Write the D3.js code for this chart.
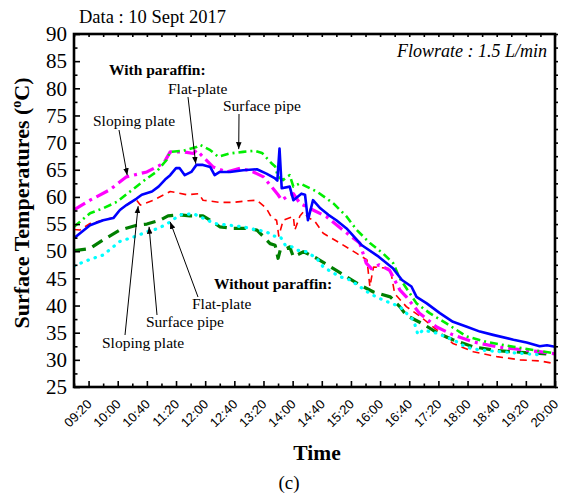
<!DOCTYPE html>
<html>
<head>
<meta charset="utf-8">
<script src="https://d3js.org/d3.v7.min.js"></script>
<style>
  body { margin: 0; background: #fff; }
  svg { display: block; }
  .serif { font-family: "Liberation Serif", "Times New Roman", serif; }
</style>
</head>
<body>
<div id="chart"></div>
<script>
// ---------- data ----------
var xTickLabels = ["09:20", "10:00", "10:40", "11:20", "12:00", "12:40", "13:20", "14:00",
  "14:40", "15:20", "16:00", "16:40", "17:20", "18:00", "18:40", "19:20", "20:00"];
var yTickLabels = [25, 30, 35, 40, 45, 50, 55, 60, 65, 70, 75, 80, 85, 90];

// with paraffin
var flatPlateWith = [
  ["09:00", 52.4], ["09:10", 53.5], ["09:22", 54.8], ["09:30", 55.2], ["09:40", 55.7], ["09:54", 56.1],
  ["10:03", 57.6], ["10:12", 58.5], ["10:26", 59.7], ["10:33", 60.4], ["10:47", 61.0], ["10:56", 61.9],
  ["11:05", 63.2], ["11:12", 64.0], ["11:20", 65.3], ["11:25", 65.3], ["11:32", 64.0], ["11:41", 64.6],
  ["11:48", 65.9], ["11:57", 65.9], ["12:07", 65.5], ["12:13", 64.0], ["12:20", 64.6], ["12:34", 64.6],
  ["12:52", 64.9], ["13:11", 65.1], ["13:24", 64.3], ["13:36", 63.4], ["13:39", 63.0], ["13:42", 68.9],
  ["13:45", 61.6], ["13:56", 61.9], ["14:01", 59.4], ["14:12", 60.6], ["14:17", 60.4], ["14:21", 55.7],
  ["14:28", 59.4], ["14:38", 57.9], ["14:49", 56.7], ["15:00", 55.7], ["15:14", 54.2], ["15:35", 51.1],
  ["15:58", 49.0], ["16:18", 46.8], ["16:30", 44.7], ["16:43", 43.5], ["16:50", 41.6], ["17:04", 40.4],
  ["17:22", 38.6], ["17:40", 37.0], ["17:59", 36.1], ["18:17", 35.2], ["18:35", 34.6], ["19:03", 33.7],
  ["19:21", 33.2], ["19:39", 32.5], ["19:49", 32.7], ["20:00", 32.4]
];
var surfacePipeWith = [
  ["09:00", 54.5], ["09:22", 57.0], ["09:40", 57.9], ["09:59", 59.1], ["10:17", 61.0], ["10:40", 63.4],
  ["10:53", 64.6], ["11:07", 66.8], ["11:12", 68.3], ["11:30", 68.5], ["11:48", 69.2], ["11:53", 69.6],
  ["12:07", 68.6], ["12:18", 67.4], ["12:34", 68.0], ["12:52", 68.3], ["13:08", 68.5], ["13:18", 68.1],
  ["13:27", 66.8], ["13:31", 66.2], ["13:36", 65.6], ["13:40", 63.7], ["13:47", 63.1], ["13:52", 63.7],
  ["13:56", 64.0], ["14:01", 61.9], ["14:10", 62.5], ["14:33", 61.0], ["14:56", 58.8], ["15:14", 56.4],
  ["15:28", 53.9], ["15:46", 51.5], ["16:04", 49.6], ["16:18", 47.8], ["16:27", 45.0], ["16:50", 40.4],
  ["17:08", 38.6], ["17:31", 36.7], ["17:59", 34.3], ["18:26", 33.3], ["19:03", 32.4], ["19:30", 31.8],
  ["20:00", 31.2]
];
var slopingPlateWith = [
  ["09:00", 57.6], ["09:22", 59.4], ["09:49", 61.3], ["10:12", 63.7], ["10:40", 64.6], ["11:03", 66.2],
  ["11:12", 68.3], ["11:30", 68.3], ["11:44", 68.0], ["11:48", 68.6], ["11:57", 67.4], ["12:11", 65.5],
  ["12:30", 64.6], ["12:48", 65.3], ["13:06", 64.6], ["13:20", 63.7], ["13:29", 62.2], ["13:40", 60.4],
  ["13:45", 59.4], ["13:56", 60.4], ["14:01", 60.6], ["14:10", 58.8], ["14:28", 57.6], ["14:46", 56.4],
  ["15:09", 53.9], ["15:32", 51.5], ["15:41", 47.8], ["15:48", 46.8], ["15:59", 47.5], ["16:13", 46.5],
  ["16:27", 42.9], ["16:36", 41.6], ["16:54", 38.6], ["17:17", 36.1], ["17:40", 34.6], ["18:08", 33.3],
  ["18:40", 32.4], ["19:12", 31.9], ["19:39", 31.5], ["20:00", 31.1]
];

// without paraffin
var slopingPlateWithout = [
  ["09:00", 54.0], ["09:08", 53.9], ["09:22", 55.1], ["09:40", 55.7], ["09:54", 56.2], ["10:03", 57.6],
  ["10:17", 59.0], ["10:26", 59.4], ["10:31", 58.5], ["10:49", 59.4], ["11:12", 61.0], ["11:35", 60.4],
  ["11:51", 60.6], ["11:57", 59.4], ["12:20", 59.0], ["12:39", 59.0], ["12:59", 59.3], ["13:11", 59.4],
  ["13:24", 57.9], ["13:31", 56.2], ["13:38", 55.7], ["13:41", 52.8], ["13:47", 55.7], ["14:01", 56.4],
  ["14:03", 53.9], ["14:10", 56.5], ["14:15", 57.3], ["14:21", 56.2], ["14:30", 55.6], ["14:42", 53.3],
  ["15:05", 51.5], ["15:28", 49.6], ["15:42", 48.4], ["15:46", 43.5], ["15:51", 47.1], ["16:14", 46.8],
  ["16:20", 42.2], ["16:36", 39.8], ["16:55", 38.0], ["17:18", 35.5], ["17:40", 33.0], ["18:08", 31.5],
  ["18:40", 30.6], ["19:12", 30.0], ["19:39", 29.8], ["20:00", 29.3]
];
var surfacePipeWithout = [
  ["09:00", 50.1], ["09:22", 50.5], ["09:40", 52.1], ["10:03", 53.9], ["10:26", 54.8], ["10:40", 55.0],
  ["10:58", 55.7], ["11:09", 56.5], ["11:25", 56.7], ["11:39", 56.5], ["11:57", 56.5], ["12:07", 55.7],
  ["12:20", 54.5], ["12:39", 54.2], ["12:57", 54.2], ["13:11", 53.9], ["13:20", 52.7], ["13:29", 51.4],
  ["13:36", 51.1], ["13:40", 48.7], ["13:43", 50.2], ["13:52", 50.5], ["13:56", 50.8], ["14:01", 49.0],
  ["14:15", 49.9], ["14:33", 48.7], ["14:56", 46.8], ["15:32", 43.8], ["15:51", 42.5], ["16:14", 41.6],
  ["16:27", 39.8], ["16:36", 38.2], ["16:59", 36.6], ["17:18", 35.0], ["17:40", 33.7], ["18:08", 32.4],
  ["18:40", 31.7], ["19:12", 31.4], ["19:48", 31.1]
];
var flatPlateWithout = [
  ["09:00", 47.3], ["09:22", 48.5], ["09:40", 49.3], ["10:03", 51.8], ["10:26", 52.8], ["10:40", 53.6],
  ["10:56", 54.2], ["11:12", 55.4], ["11:25", 56.7], ["11:44", 56.9], ["12:13", 55.1], ["12:32", 54.8],
  ["12:52", 54.5], ["13:11", 53.9], ["13:24", 53.6], ["13:33", 52.8], ["13:43", 52.7], ["13:50", 51.1],
  ["13:59", 50.8], ["14:06", 50.2], ["14:19", 49.9], ["14:33", 48.7], ["14:42", 47.1], ["15:05", 45.3],
  ["15:19", 44.7], ["15:32", 43.5], ["15:46", 42.2], ["16:04", 41.0], ["16:27", 39.8], ["16:46", 37.3],
  ["16:52", 34.6], ["16:59", 35.5], ["17:18", 34.9], ["17:40", 33.7], ["17:59", 32.3], ["18:17", 31.8],
  ["18:45", 31.5], ["19:12", 31.2], ["19:42", 30.9]
];

// ---------- layout ----------
var svgWidth = 563;
var svgHeight = 494;
var margin = { top: 34, right: 8, bottom: 107, left: 74 };
var width = svgWidth - margin.left - margin.right;
var height = svgHeight - margin.top - margin.bottom;

var parseTime = d3.timeParse("%H:%M");
var fmtTime = d3.timeFormat("%H:%M");

var svg = d3.select("#chart")
  .append("svg")
  .attr("width", svgWidth)
  .attr("height", svgHeight);

var chartGroup = svg.append("g")
  .attr("transform", `translate(${margin.left}, ${margin.top})`);

// scales
var x = d3.scaleTime()
  .domain([parseTime("09:00"), parseTime("20:00")])
  .range([0, width]);

var y = d3.scaleLinear()
  .domain([25, 90])
  .range([height, 0]);

// series styles
var series = [
  { data: slopingPlateWithout, color: "#ff0000", w: 1.6, dash: "7,5" },
  { data: surfacePipeWithout, color: "#007f00", w: 3.2, dash: "12,7" },
  { data: flatPlateWithout, color: "#00ffff", w: 3.2, dash: "0.5,7", cap: "round" },
  { data: slopingPlateWith, color: "#ff00ff", w: 3.2, dash: "13,5,3,5" },
  { data: surfacePipeWith, color: "#00ee00", w: 2.6, dash: "8,4,2,4" },
  { data: flatPlateWith, color: "#0000ff", w: 2.6, dash: null }
];

var line = d3.line()
  .x(d => x(parseTime(d[0])))
  .y(d => y(d[1]));

svg.append("clipPath").attr("id", "plotclip")
  .append("rect").attr("width", width).attr("height", height);

chartGroup.append("g")
  .attr("clip-path", "url(#plotclip)")
  .selectAll("path")
  .data(series)
  .enter()
  .append("path")
  .attr("d", d => line(d.data))
  .attr("fill", "none")
  .attr("stroke", d => d.color)
  .attr("stroke-width", d => d.w)
  .attr("stroke-dasharray", d => d.dash)
  .attr("stroke-linecap", d => d.cap || "butt")
  .attr("stroke-linejoin", "round");

// ---------- axes ----------
var majorX = xTickLabels.map(parseTime);
var minorX = majorX.map(t => d3.timeMinute.offset(t, -20));

var xAxis = chartGroup.append("g")
  .attr("transform", `translate(0, ${height})`)
  .call(d3.axisBottom(x).tickValues(majorX).tickSize(-6).tickFormat(fmtTime));

xAxis.selectAll("text")
  .attr("x", 0).attr("y", 0).attr("dy", 0)
  .attr("transform", "translate(3.5,18) rotate(-45)")
  .attr("font-size", 13)
  .style("text-anchor", "end")
  .style("font-family", "'Liberation Sans', Arial, sans-serif")
  .style("font-size", "13px")
  .attr("fill", "#000");

chartGroup.append("g")
  .attr("transform", `translate(0, ${height})`)
  .call(d3.axisBottom(x).tickValues(minorX).tickSize(-3.5).tickFormat(""));

// top mirror ticks
chartGroup.append("g")
  .call(d3.axisTop(x).tickValues(majorX.concat(minorX)).tickSize(-3).tickFormat(""));

var yAxis = chartGroup.append("g")
  .call(d3.axisLeft(y).tickValues(yTickLabels).tickSize(-6).tickPadding(7));

yAxis.selectAll("text")
  .attr("class", "serif")
  .attr("font-size", 21)
  .style("font-size", "21px")
  .attr("fill", "#000");

var minorY = yTickLabels.slice(1).map(v => v - 2.5);
chartGroup.append("g")
  .call(d3.axisLeft(y).tickValues(minorY).tickSize(-3.5).tickFormat(""));

chartGroup.append("g")
  .attr("transform", `translate(${width}, 0)`)
  .call(d3.axisRight(y).tickValues(yTickLabels.concat(minorY)).tickSize(3).tickFormat(""));

chartGroup.selectAll(".domain").remove();
chartGroup.selectAll(".tick line").attr("stroke", "#000").attr("stroke-width", 1.6);

// frame
chartGroup.append("rect")
  .attr("width", width)
  .attr("height", height)
  .attr("fill", "none")
  .attr("stroke", "#000")
  .attr("stroke-width", 2.6);

// ---------- titles ----------
svg.append("text")
  .attr("class", "serif")
  .attr("x", 79).attr("y", 23)
  .style("font-size", "18.5px")
  .text("Data : 10 Sept 2017");

svg.append("text")
  .attr("class", "serif")
  .attr("x", 547).attr("y", 57)
  .attr("text-anchor", "end")
  .style("font-size", "18px")
  .style("font-style", "italic")
  .text("Flowrate : 1.5 L/min");

var yTitle = svg.append("text")
  .attr("class", "serif")
  .attr("transform", "translate(29, 203) rotate(-90)")
  .attr("text-anchor", "middle")
  .style("font-size", "22px")
  .style("font-weight", "bold");
yTitle.append("tspan").text("Surface Temperatures (");
yTitle.append("tspan").attr("dy", -8).style("font-size", "14px").text("o");
yTitle.append("tspan").attr("dy", 8).text("C)");

svg.append("text")
  .attr("class", "serif")
  .attr("x", 317).attr("y", 460)
  .attr("text-anchor", "middle")
  .style("font-size", "21.5px")
  .style("font-weight", "bold")
  .text("Time");

svg.append("text")
  .attr("class", "serif")
  .attr("x", 289).attr("y", 489)
  .attr("text-anchor", "middle")
  .style("font-size", "19px")
  .text("(c)");

// ---------- annotations ----------
svg.append("defs").append("marker")
  .attr("id", "arrow")
  .attr("viewBox", "0 0 10 10")
  .attr("refX", 10).attr("refY", 5)
  .attr("markerWidth", 7).attr("markerHeight", 7)
  .attr("markerUnits", "userSpaceOnUse")
  .attr("orient", "auto")
  .append("path")
  .attr("d", "M0,1 L10,5 L0,9 Z")
  .attr("fill", "#000");

var headers = [
  { text: "With paraffin:", x: 109, y: 75 },
  { text: "Without paraffin:", x: 214, y: 289 }
];
svg.selectAll(".hdr")
  .data(headers)
  .enter()
  .append("text")
  .attr("class", "serif")
  .attr("x", d => d.x).attr("y", d => d.y)
  .style("font-size", "15.5px")
  .style("font-weight", "bold")
  .text(d => d.text);

// label, text position, arrow tail, arrow tip (time, value)
var notes = [
  { text: "Flat-plate", tx: 168, ty: 93.5, x0: 188, y0: 97, t: "11:47", v: 66.1 },
  { text: "Surface pipe", tx: 223, ty: 110.5, x0: 239, y0: 114, t: "12:46", v: 68.8 },
  { text: "Sloping plate", tx: 93, ty: 125.5, x0: 119, y0: 130, t: "10:13", v: 64.0 },
  { text: "Flat-plate", tx: 192, ty: 308.5, x0: 198, y0: 297, t: "11:12", v: 55.4 },
  { text: "Surface pipe", tx: 146, ty: 327, x0: 157, y0: 315, t: "10:43", v: 54.5 },
  { text: "Sloping plate", tx: 102, ty: 347.5, x0: 125, y0: 335, t: "10:28", v: 58.3 }
];

var noteGroup = svg.selectAll(".note")
  .data(notes)
  .enter()
  .append("g");

noteGroup.append("text")
  .attr("class", "serif")
  .attr("x", d => d.tx).attr("y", d => d.ty)
  .style("font-size", "15.5px")
  .text(d => d.text);

noteGroup.append("line")
  .attr("x1", d => d.x0).attr("y1", d => d.y0)
  .attr("x2", d => margin.left + x(parseTime(d.t)))
  .attr("y2", d => margin.top + y(d.v))
  .attr("stroke", "#000")
  .attr("stroke-width", 1)
  .attr("marker-end", "url(#arrow)");
</script>
</body>
</html>
